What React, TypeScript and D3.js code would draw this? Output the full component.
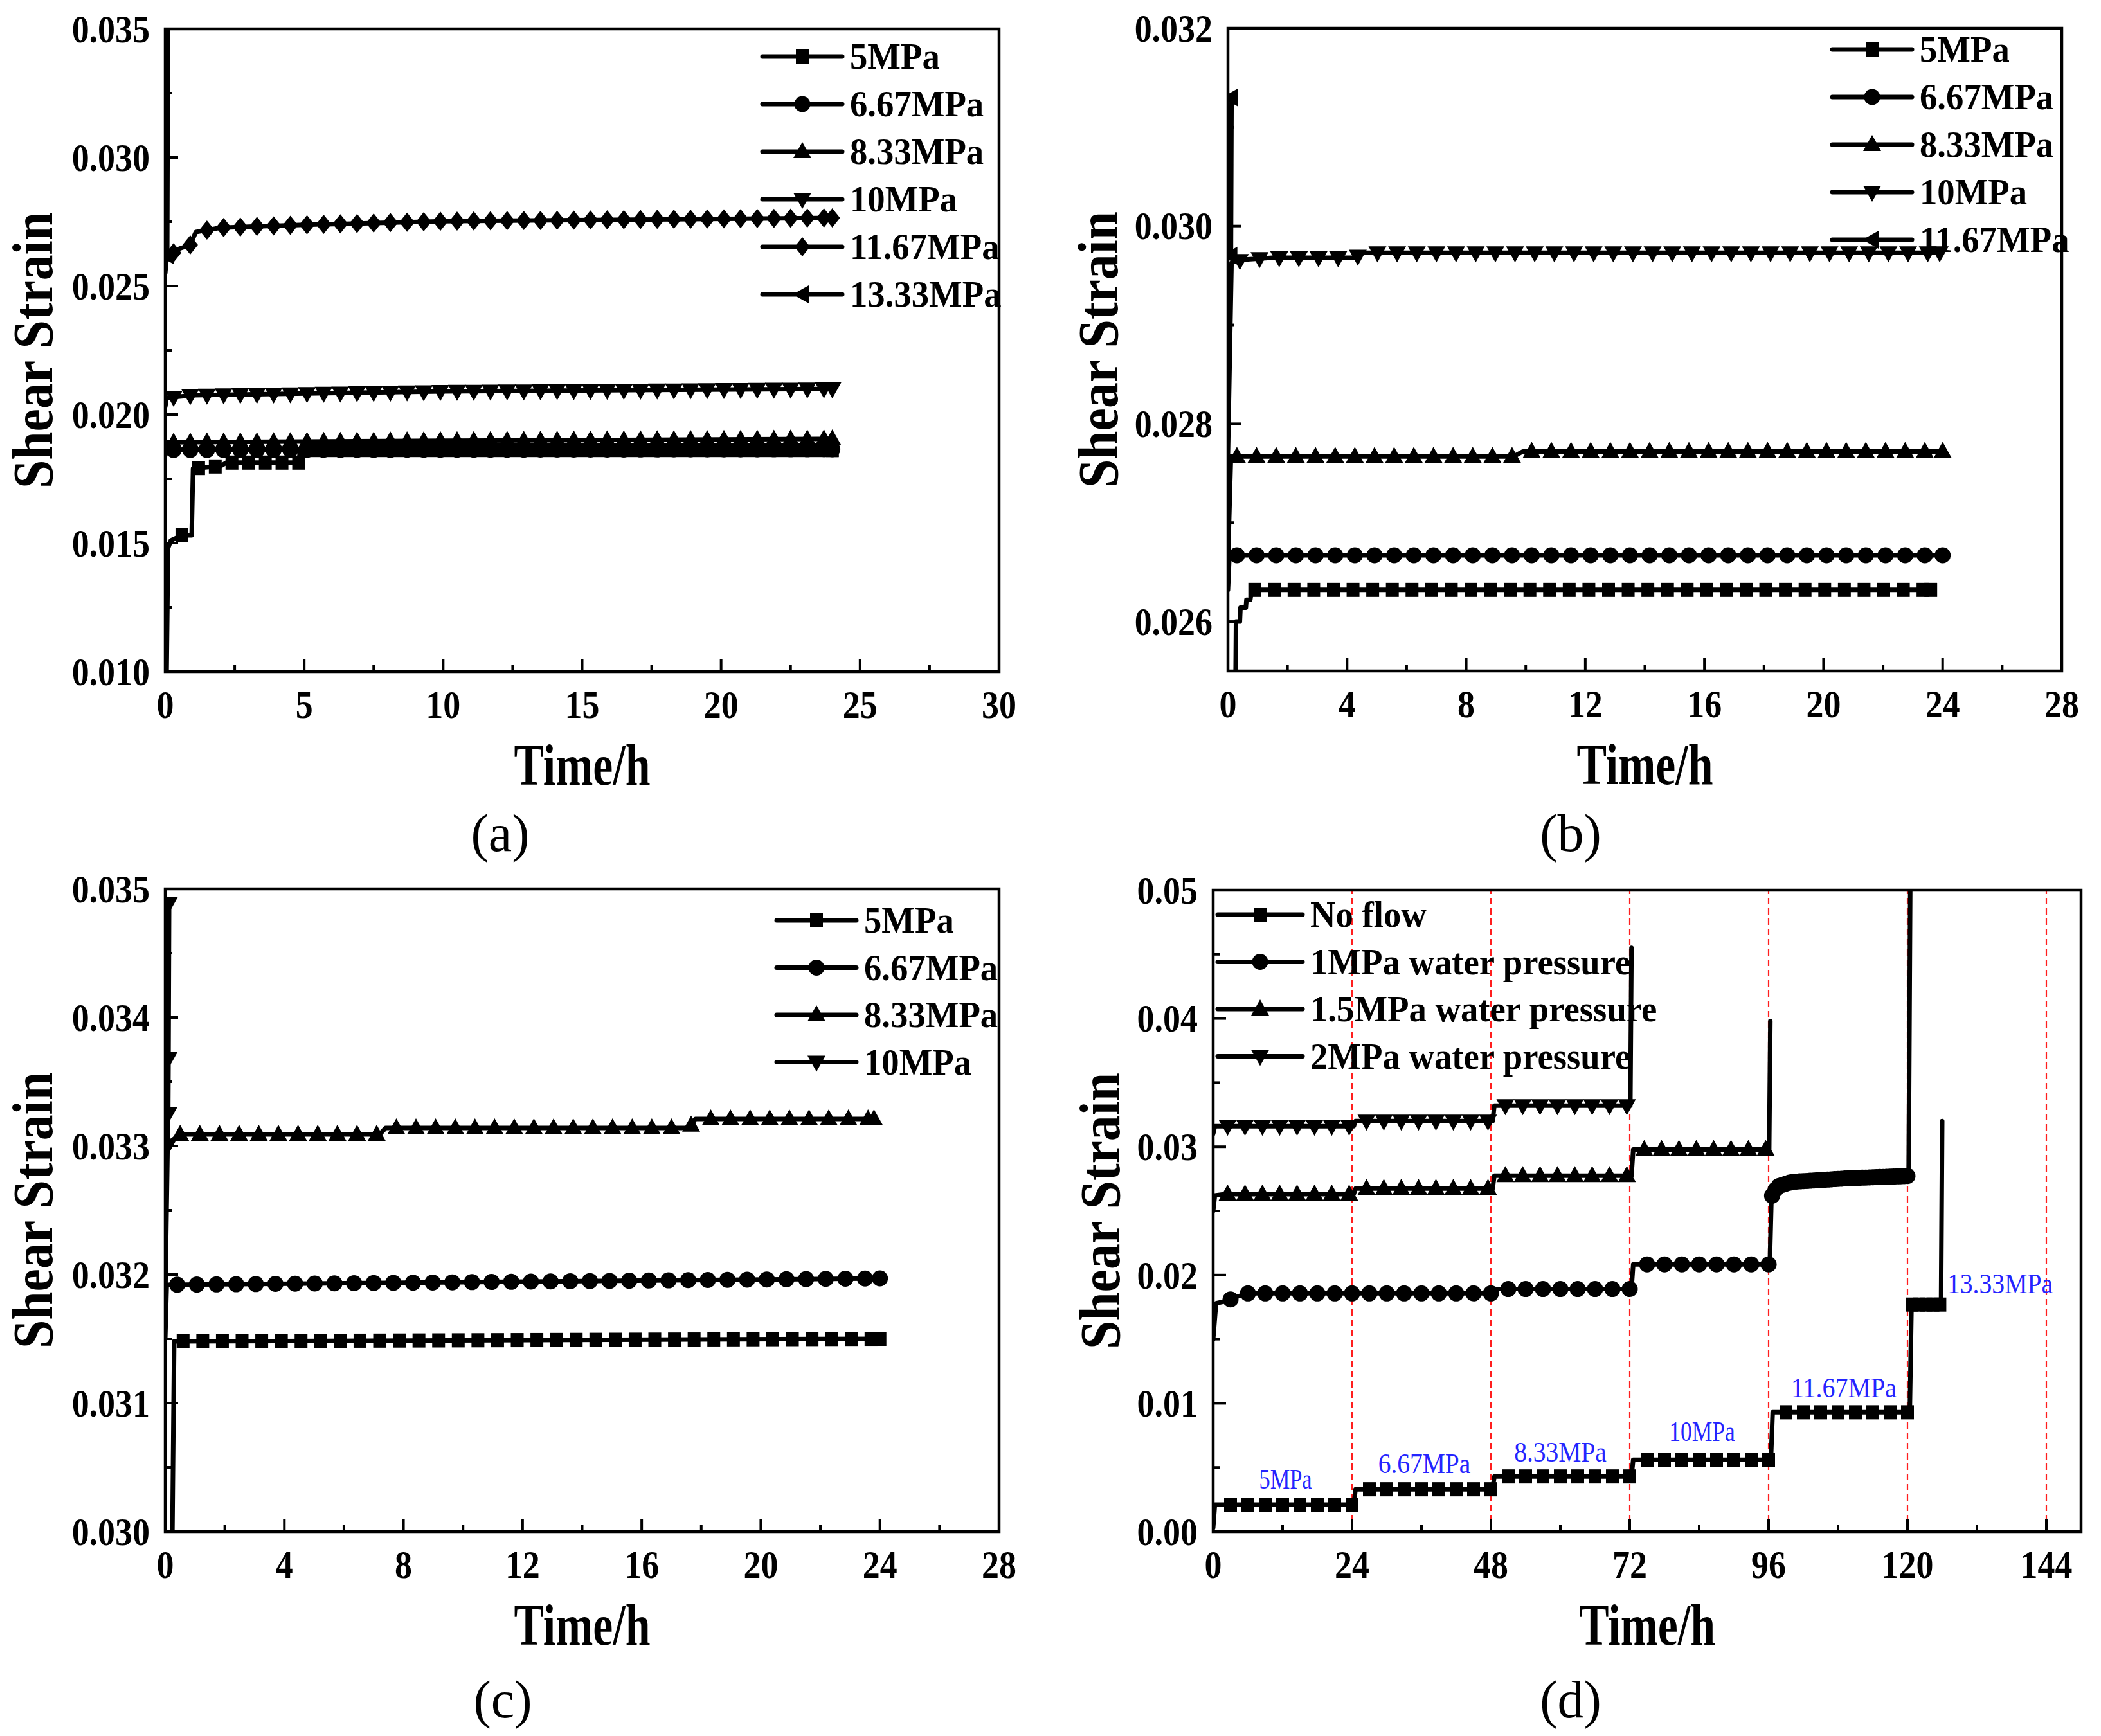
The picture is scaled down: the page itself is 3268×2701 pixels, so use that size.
import { scaleLinear, range, line } from "d3";

type Pt = [number, number];
type Shape = "square" | "circle" | "up" | "down" | "diamond" | "left";

// ---------- (a) ----------
const timeTicksA = [0, 5, 10, 15, 20, 25, 30];
const timeMinorA = [2.5, 7.5, 12.5, 17.5, 22.5, 27.5];
const strainTicksA = [0.01, 0.015, 0.02, 0.025, 0.03, 0.035];
const strainMinorA = [0.0125, 0.0175, 0.0225, 0.0275, 0.0325];
const namesA = ["5MPa", "6.67MPa", "8.33MPa", "10MPa", "11.67MPa", "13.33MPa"];
const a5: Pt[] = [[0.05, 0.0100], [0.1, 0.0148], [0.2, 0.0151], [0.6, 0.0153], [0.95, 0.0153], [1.0, 0.0179], [2.0, 0.0180], [2.2, 0.01813], [4.8, 0.01813], [4.85, 0.01862], [24, 0.01862]];
const a667: Pt[] = [[0, 0.0184], [0.05, 0.01862], [24, 0.01865]];
const a833: Pt[] = [[0, 0.0186], [0.05, 0.01892], [10, 0.01898], [24, 0.01905]];
const a10: Pt[] = [[0, 0.0203], [0.05, 0.02065], [1, 0.02075], [10, 0.0209], [24, 0.021]];
const a1167: Pt[] = [[0, 0.0255], [0.05, 0.0261], [0.5, 0.02645], [0.9, 0.0266], [1.1, 0.0271], [2, 0.02727], [5, 0.02738], [10, 0.02752], [24, 0.02765]];
const a1333: Pt[] = [[0.07, 0.0262], [0.1, 0.036]];

// ---------- (b) ----------
const timeTicksB = [0, 4, 8, 12, 16, 20, 24, 28];
const timeMinorB = [2, 6, 10, 14, 18, 22, 26];
const strainTicksB = [0.026, 0.028, 0.03, 0.032];
const strainMinorB = [0.027, 0.029, 0.031];
const namesB = ["5MPa", "6.67MPa", "8.33MPa", "10MPa", "11.67MPa"];
const b5: Pt[] = [[0.25, 0.0252], [0.27, 0.026], [0.4, 0.026], [0.42, 0.02614], [0.6, 0.02614], [0.62, 0.02622], [0.75, 0.02622], [0.8, 0.02632], [23.6, 0.02632]];
const b667: Pt[] = [[0, 0.02632], [0.05, 0.02667], [24, 0.02667]];
const b833: Pt[] = [[0, 0.0266], [0.1, 0.02767], [9.6, 0.02767], [9.9, 0.02772], [24, 0.02772]];
const b10: Pt[] = [[0, 0.0277], [0.12, 0.02963], [0.5, 0.02966], [1.5, 0.02968], [4.3, 0.02968], [4.5, 0.02973], [23.9, 0.02973]];
const b1167: Pt[] = [[0.1, 0.0297], [0.12, 0.0313]];

// ---------- (c) ----------
const timeTicksC = [0, 4, 8, 12, 16, 20, 24, 28];
const timeMinorC = [2, 6, 10, 14, 18, 22, 26];
const strainTicksC = [0.03, 0.031, 0.032, 0.033, 0.034, 0.035];
const strainMinorC = [0.0305, 0.0315, 0.0325, 0.0335, 0.0345];
const namesC = ["5MPa", "6.67MPa", "8.33MPa", "10MPa"];
const c5: Pt[] = [[0.22, 0.0295], [0.3, 0.03148], [24, 0.0315]];
const c667: Pt[] = [[0, 0.0315], [0.05, 0.03192], [10, 0.03194], [24, 0.03197]];
const c833: Pt[] = [[0, 0.0318], [0.08, 0.03302], [0.5, 0.03309], [7.2, 0.03309], [7.4, 0.03314], [17.6, 0.03314], [17.8, 0.03321], [23.8, 0.03321]];
const c10: Pt[] = [[0.08, 0.033], [0.1, 0.03325], [0.11, 0.03368], [0.13, 0.03489]];

// ---------- (d) ----------
const timeTicksD = [0, 24, 48, 72, 96, 120, 144];
const timeMinorD = [12, 36, 60, 84, 108, 132];
const strainTicksD = [0, 0.01, 0.02, 0.03, 0.04, 0.05];
const strainMinorD = [0.005, 0.015, 0.025, 0.035, 0.045];
const namesD = ["No flow", "1MPa water pressure", "1.5MPa water pressure", "2MPa water pressure"];
const dNoFlow: Pt[] = [[0, 0.0003], [0.3, 0.0021], [24.3, 0.0021], [24.6, 0.0033], [48.3, 0.0033], [48.6, 0.0043], [72.3, 0.0043], [72.6, 0.0056], [96.4, 0.0056], [96.7, 0.0093], [120.4, 0.0093], [120.7, 0.0177], [125.8, 0.0177], [126, 0.032]];
const d1MPa: Pt[] = [[0, 0.015], [0.5, 0.0178], [2.5, 0.018], [4, 0.0183], [6, 0.01857], [48.3, 0.01857], [48.6, 0.01891], [72.3, 0.01891], [72.6, 0.02083], [96.2, 0.02083], [96.5, 0.0261], [97.5, 0.0269], [100, 0.02726], [110, 0.02755], [120.2, 0.02772], [120.5, 0.052]];
const d15MPa: Pt[] = [[0, 0.025], [0.3, 0.0262], [2, 0.0263], [24.3, 0.0263], [24.6, 0.02674], [48.3, 0.02674], [48.6, 0.02774], [72.3, 0.02774], [72.6, 0.02978], [96.1, 0.02978], [96.3, 0.0398]];
const d2MPa: Pt[] = [[0, 0.031], [0.3, 0.0316], [24.3, 0.0316], [24.6, 0.032], [48.3, 0.032], [48.6, 0.0332], [72.1, 0.0332], [72.3, 0.0455]];
const stageTimes = [24, 48, 72, 96, 120, 144];
const stageNames = ["5MPa", "6.67MPa", "8.33MPa", "10MPa", "11.67MPa", "13.33MPa"];
const stageLabelTime = [12.5, 36.5, 60, 84.5, 109, 136];
const stageLabelStrain = [0.0041, 0.0053, 0.0062, 0.0078, 0.0112, 0.0193];

type Span = { from: number; every: number; to?: number };
type Marks = Span[] | "points";

interface Panel {
  label: string;
  box: [number, number, number, number]; // left, right, top, bottom
  xDomain: [number, number];
  yDomain: [number, number];
  xTicks: number[];
  xMinor: number[];
  yTicks: number[];
  yMinor: number[];
  yDigits: number;
  names: string[];
  curves: Pt[][];
  shapes: Shape[];
  marks: Marks[];
  endMark: boolean;
  legend: { x: number; y: number; step: number; len: number };
  labelX: number;
  labelY: number;
  titleGap: number;
}

const shapes6: Shape[] = ["square", "circle", "up", "down", "diamond", "left"];
const every = (from: number, step: number): Marks => [{ from, every: step }];

const panels: Panel[] = [
  {
    label: "(a)",
    box: [257, 1554, 45, 1045],
    xDomain: [0, 30],
    yDomain: [0.01, 0.035],
    xTicks: timeTicksA,
    xMinor: timeMinorA,
    yTicks: strainTicksA,
    yMinor: strainMinorA,
    yDigits: 3,
    names: namesA,
    curves: [a5, a667, a833, a10, a1167, a1333],
    shapes: shapes6,
    marks: [every(0.6, 0.6), every(0.3, 0.6), every(0.3, 0.6), every(0.3, 0.6), every(0.3, 0.6), "points"],
    endMark: true,
    legend: { x: 1186, y: 88, step: 74, len: 124 },
    labelX: 778,
    labelY: 1324,
    titleGap: 176,
  },
  {
    label: "(b)",
    box: [1910, 3207, 44, 1044],
    xDomain: [0, 28],
    yDomain: [0.0255, 0.032],
    xTicks: timeTicksB,
    xMinor: timeMinorB,
    yTicks: strainTicksB,
    yMinor: strainMinorB,
    yDigits: 3,
    names: namesB,
    curves: [b5, b667, b833, b10, b1167],
    shapes: shapes6.slice(0, 4).concat(["left"]),
    marks: [every(0.9, 0.66), every(0.3, 0.66), every(0.3, 0.66), every(0.4, 0.66), "points"],
    endMark: true,
    legend: { x: 2850, y: 77, step: 74, len: 124 },
    labelX: 2443,
    labelY: 1324,
    titleGap: 172,
  },
  {
    label: "(c)",
    box: [257, 1554, 1383, 2383],
    xDomain: [0, 28],
    yDomain: [0.03, 0.035],
    xTicks: timeTicksC,
    xMinor: timeMinorC,
    yTicks: strainTicksC,
    yMinor: strainMinorC,
    yDigits: 3,
    names: namesC,
    curves: [c5, c667, c833, c10],
    shapes: shapes6.slice(0, 4),
    marks: [every(0.6, 0.66), every(0.4, 0.66), every(0.5, 0.66), "points"],
    endMark: true,
    legend: { x: 1208, y: 1432, step: 73.5, len: 124 },
    labelX: 782,
    labelY: 2672,
    titleGap: 176,
  },
  {
    label: "(d)",
    box: [1887, 3237, 1385, 2383],
    xDomain: [0, 150],
    yDomain: [0, 0.05],
    xTicks: timeTicksD,
    xMinor: timeMinorD,
    yTicks: strainTicksD,
    yMinor: strainMinorD,
    yDigits: 2,
    names: namesD,
    curves: [dNoFlow, d1MPa, d15MPa, d2MPa],
    shapes: shapes6.slice(0, 4),
    marks: [
      [{ from: 3, every: 3, to: 120 }, { from: 120.8, every: 1.2, to: 125.8 }],
      [{ from: 3, every: 3, to: 96 }, { from: 96.6, every: 0.6, to: 120.2 }],
      [{ from: 2.5, every: 3, to: 96 }],
      [{ from: 2.5, every: 3, to: 72 }],
    ],
    endMark: false,
    legend: { x: 1894, y: 1423, step: 73.5, len: 132 },
    labelX: 2443,
    labelY: 2672,
    titleGap: 146,
  },
];

const markerPath: Record<Shape, string> = {
  square: "M-10,-11h20v22h-20z",
  circle: "M-12.5,0a12.5,12.5 0 1,0 25,0a12.5,12.5 0 1,0 -25,0z",
  up: "M0,-15L14,10L-14,10Z",
  down: "M0,15L14,-10L-14,-10Z",
  diamond: "M0,-15L12,0L0,15L-12,0Z",
  left: "M-15,0L10,-14L10,14Z",
};

// position of a marker on the drawn polyline
function valueAt(pts: Pt[], t: number): number {
  if (t <= pts[0][0]) return pts[0][1];
  for (let i = 1; i < pts.length; i++) {
    const [x0, y0] = pts[i - 1];
    const [x1, y1] = pts[i];
    if (t <= x1) return x1 === x0 ? y1 : y0 + ((y1 - y0) * (t - x0)) / (x1 - x0);
  }
  return pts[pts.length - 1][1];
}

function markerPoints(pts: Pt[], marks: Marks, endMark: boolean): Pt[] {
  if (marks === "points") return pts;
  const last = pts[pts.length - 1][0];
  const out: Pt[] = [];
  marks.forEach((s) => {
    range(s.from, (s.to ?? last) + 1e-6, s.every).forEach((t) => out.push([t, valueAt(pts, t)]));
  });
  if (endMark) out.push(pts[pts.length - 1]);
  return out;
}

const FONT = "'Liberation Serif', 'Times New Roman', serif";
const TICK_SX = 0.87;

function PanelChart({ p, idx }: { p: Panel; idx: number }) {
  const [x0, x1, y0, y1] = p.box;
  const xs = scaleLinear().domain(p.xDomain).range([x0, x1]);
  const ys = scaleLinear().domain(p.yDomain).range([y1, y0]);
  const path = line<Pt>()
    .x((d) => xs(d[0]))
    .y((d) => ys(d[1]));
  const clipId = `clip-${idx}`;
  const midX = (x0 + x1) / 2;
  const midY = (y0 + y1) / 2;

  return (
    <g>
      <defs>
        <clipPath id={clipId}>
          <rect x={x0} y={y0} width={x1 - x0} height={y1 - y0} />
        </clipPath>
      </defs>

      {p.label === "(d)" && (
        <g>
          {stageTimes.map((t) => (
            <line key={t} x1={xs(t)} x2={xs(t)} y1={y1} y2={y0} stroke="#ff1f1f" strokeWidth={2.2} strokeDasharray="10,6" />
          ))}
        </g>
      )}

      <g clipPath={`url(#${clipId})`}>
        {p.curves.map((c, i) => (
          <path key={i} d={path(c) ?? ""} fill="none" stroke="#000" strokeWidth={7} strokeLinejoin="round" strokeLinecap="round" />
        ))}
        {p.curves.map((c, i) =>
          markerPoints(c, p.marks[i], p.endMark).map((d, j) => (
            <path key={`${i}-${j}`} d={markerPath[p.shapes[i]]} transform={`translate(${xs(d[0])},${ys(d[1])})`} fill="#000" />
          ))
        )}
      </g>

      {/* frame */}
      <rect x={x0} y={y0} width={x1 - x0} height={y1 - y0} fill="none" stroke="#000" strokeWidth={4.5} />

      {/* ticks, pointing inward */}
      {p.xTicks.map((t) => (
        <line key={`xt${t}`} x1={xs(t)} x2={xs(t)} y1={y1} y2={y1 - 20} stroke="#000" strokeWidth={4} />
      ))}
      {p.xMinor.map((t) => (
        <line key={`xm${t}`} x1={xs(t)} x2={xs(t)} y1={y1} y2={y1 - 10} stroke="#000" strokeWidth={4} />
      ))}
      {p.yTicks.map((t) => (
        <line key={`yt${t}`} x1={x0} x2={x0 + 20} y1={ys(t)} y2={ys(t)} stroke="#000" strokeWidth={4} />
      ))}
      {p.yMinor.map((t) => (
        <line key={`ym${t}`} x1={x0} x2={x0 + 10} y1={ys(t)} y2={ys(t)} stroke="#000" strokeWidth={4} />
      ))}

      {/* tick labels */}
      {p.xTicks.map((t) => (
        <text key={`xl${t}`} transform={`translate(${xs(t)},${y1 + 72}) scale(${TICK_SX},1)`} textAnchor="middle" fontSize={62} fontWeight="bold">
          {t}
        </text>
      ))}
      {p.yTicks.map((t) => (
        <text key={`yl${t}`} transform={`translate(${x0 - 24},${ys(t)}) scale(${TICK_SX},1)`} textAnchor="end" dominantBaseline="central" fontSize={62} fontWeight="bold">
          {t.toFixed(p.yDigits)}
        </text>
      ))}

      {/* axis titles */}
      <text x={midX} y={y1 + 176} textAnchor="middle" fontSize={90} fontWeight="bold" textLength={212} lengthAdjust="spacingAndGlyphs">
        Time/h
      </text>
      <text transform={`translate(${x0 - p.titleGap},${midY}) rotate(-90)`} textAnchor="middle" fontSize={88} fontWeight="bold" textLength={430} lengthAdjust="spacingAndGlyphs">
        Shear Strain
      </text>

      {/* legend */}
      {p.names.map((n, i) => {
        const ly = p.legend.y + i * p.legend.step;
        const lx = p.legend.x;
        return (
          <g key={n}>
            <line x1={lx} x2={lx + p.legend.len} y1={ly} y2={ly} stroke="#000" strokeWidth={7} strokeLinecap="round" />
            <path d={markerPath[p.shapes[i]]} transform={`translate(${lx + p.legend.len / 2},${ly})`} fill="#000" />
            <text transform={`translate(${lx + p.legend.len + 12},${ly}) scale(0.96,1)`} dominantBaseline="central" fontSize={57} fontWeight="bold">
              {n}
            </text>
          </g>
        );
      })}

      {p.label === "(d)" &&
        stageNames.map((n, i) => (
          <text
            key={n}
            x={xs(stageLabelTime[i])}
            y={ys(stageLabelStrain[i])}
            textAnchor="middle"
            dominantBaseline="central"
            fontSize={44}
            fill="#2424ff"
            textLength={n.length * 20.5}
            lengthAdjust="spacingAndGlyphs"
          >
            {n}
          </text>
        ))}

      <text x={p.labelX} y={p.labelY} textAnchor="middle" fontSize={82}>
        {p.label}
      </text>
    </g>
  );
}

export default function App() {
  return (
    <svg
      width={3268}
      height={2701}
      viewBox="0 0 3268 2701"
      style={{ position: "absolute", left: 0, top: 0, background: "#fff", display: "block" }}
      fontFamily={FONT}
    >
      {panels.map((p, i) => (
        <PanelChart key={p.label} p={p} idx={i} />
      ))}
    </svg>
  );
}
